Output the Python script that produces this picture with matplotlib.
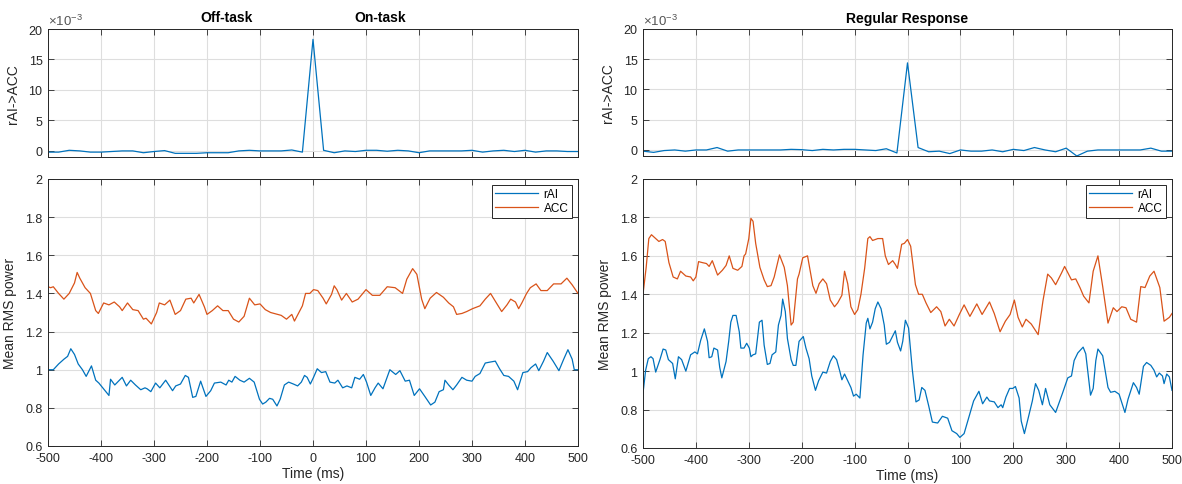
import numpy as np
import matplotlib
matplotlib.use("Agg")
from matplotlib import pyplot as plt

plt.rcParams['font.family'] = ['Liberation Sans', 'DejaVu Sans']
plt.rcParams['mathtext.default'] = 'regular'

BLUE = '#0072BD'
ORANGE = '#D95319'
AX_COL = '#262626'

# top panels: rAI->ACC, sampled every 20 ms (x 1e-3)
lag_t = np.arange(-500, 501, 20)
gc_off_on = [-0.2, -0.2, 0.1, 0.0, -0.2, -0.2, -0.1, 0.0, 0.0, -0.3,
             -0.1, 0.05, -0.4, -0.4, -0.4, -0.3, -0.3, -0.3, 0.0, 0.1,
             0.0, 0.0, 0.0, 0.15, -0.2, 18.3, 0.1, -0.3, 0.0, -0.1,
             0.1, 0.1, -0.05, 0.1, 0.0, -0.3, 0.0, 0.0, 0.0, 0.0,
             0.1, -0.2, 0.0, 0.1, -0.1, 0.1, -0.2, 0.0, 0.0, -0.1, -0.1]
gc_regular = [-0.2, -0.4, -0.1, 0.0, -0.2, 0.0, 0.0, 0.4, -0.2, 0.0,
              0.0, 0.0, 0.0, 0.0, 0.1, 0.05, -0.1, 0.1, 0.0, 0.1,
              0.1, 0.0, -0.1, 0.2, -0.5, 14.4, 0.4, -0.3, -0.2, -0.6,
              0.0, -0.2, -0.2, 0.0, -0.3, 0.1, -0.1, 0.4, 0.0, -0.3,
              0.3, -1.0, -0.2, 0.0, 0.0, 0.0, 0.0, 0.0, 0.3, -0.2, -0.2]

# bottom-left: Off-task / On-task
acc_l_t = [-500, -495, -490, -480, -470, -460, -450, -445, -440, -430, -420, -410, -405,
           -395, -385, -375, -365, -360, -350, -340, -330, -320, -315, -305, -295, -290,
           -280, -270, -260, -250, -240, -230, -225, -215, -205, -200, -190, -180, -170,
           -160, -150, -140, -130, -120, -110, -100, -90, -80, -60, -50, -40, -35, -20,
           -14, -6, 1, 9, 19, 25, 35, 40, 45, 54, 63, 74, 85, 100, 112, 126, 140, 155,
           169, 177, 188, 196, 205, 211, 221, 233, 246, 256, 265, 271, 281, 290, 301,
           315, 325, 335, 346, 356, 366, 373, 382, 388, 394, 403, 410, 421, 430, 442,
           454, 468, 479, 489, 500]
acc_l = [1.435, 1.43, 1.435, 1.40, 1.37, 1.40, 1.455, 1.51, 1.48, 1.43, 1.40, 1.31, 1.295,
         1.35, 1.34, 1.355, 1.33, 1.31, 1.35, 1.315, 1.31, 1.265, 1.27, 1.24, 1.30, 1.35,
         1.34, 1.365, 1.29, 1.31, 1.37, 1.375, 1.35, 1.395, 1.33, 1.29, 1.31, 1.335, 1.31,
         1.31, 1.265, 1.25, 1.28, 1.375, 1.34, 1.345, 1.315, 1.30, 1.285, 1.265, 1.29, 1.255,
         1.335, 1.40, 1.40, 1.42, 1.415, 1.375, 1.345, 1.395, 1.44, 1.42, 1.365, 1.40,
         1.355, 1.37, 1.42, 1.39, 1.39, 1.435, 1.43, 1.40, 1.475, 1.53, 1.50, 1.37, 1.32,
         1.375, 1.405, 1.38, 1.35, 1.33, 1.29, 1.295, 1.305, 1.32, 1.335, 1.37, 1.40,
         1.35, 1.305, 1.34, 1.37, 1.355, 1.32, 1.35, 1.40, 1.43, 1.45, 1.415, 1.415, 1.45,
         1.45, 1.48, 1.445, 1.40]

rai_l_t = [-500, -495, -490, -480, -470, -463, -457, -450, -443, -435, -428, -418, -410,
           -404, -385, -382, -374, -360, -352, -344, -335, -325, -317, -313, -306, -297,
           -289, -278, -265, -259, -250, -241, -235, -227, -221, -212, -202, -193, -186,
           -174, -164, -159, -153, -147, -138, -130, -120, -111, -101, -95, -89, -82, -76,
           -68, -62, -54, -46, -37, -29, -22, -16, -11, -5, 1, 8, 16, 24, 32, 41, 47, 56,
           64, 73, 79, 88, 95, 101, 109, 117, 123, 132, 145, 156, 164, 174, 182, 191, 201,
           211, 222, 230, 238, 246, 249, 256, 264, 271, 281, 290, 300, 306, 315, 325, 334,
           344, 352, 360, 369, 379, 386, 396, 405, 411, 420, 426, 435, 442, 453, 464, 473,
           481, 489, 493, 500]
rai_l = [1.0, 1.0, 1.0, 1.03, 1.055, 1.07, 1.11, 1.08, 1.03, 1.0, 0.965, 1.02, 0.945,
         0.93, 0.865, 0.95, 0.92, 0.96, 0.915, 0.945, 0.92, 0.895, 0.905, 0.90, 0.885, 0.93,
         0.905, 0.945, 0.89, 0.915, 0.925, 0.97, 0.96, 0.855, 0.86, 0.94, 0.86, 0.89, 0.93,
         0.935, 0.92, 0.945, 0.935, 0.965, 0.945, 0.935, 0.955, 0.935, 0.845, 0.82, 0.83,
         0.85, 0.845, 0.81, 0.845, 0.92, 0.935, 0.925, 0.915, 0.935, 0.97, 0.96, 0.925,
         0.96, 1.005, 0.985, 0.99, 0.935, 0.93, 0.945, 0.905, 0.915, 0.905, 0.96, 0.95,
         0.975, 0.935, 0.865, 0.905, 0.93, 0.90, 1.0, 0.975, 0.995, 0.94, 0.945, 0.865,
         0.90, 0.86, 0.815, 0.83, 0.885, 0.895, 0.945, 0.92, 0.895, 0.92, 0.96, 0.945,
         0.94, 0.965, 0.98, 1.035, 1.04, 1.045, 1.005, 0.97, 0.965, 0.94, 0.895, 0.985,
         0.99, 1.01, 1.03, 0.995, 1.045, 1.09, 1.045, 0.995, 1.055, 1.105, 1.055, 1.0, 1.0]

# bottom-right: Regular Response
acc_r_t = [-500, -494, -489, -484, -476, -470, -463, -458, -451, -443, -435, -429, -419,
           -410, -405, -400, -395, -388, -380, -375, -369, -359, -350, -343, -337, -330,
           -321, -313, -309, -306, -300, -296, -292, -287, -279, -271, -265, -258, -252,
           -242, -233, -227, -220, -216, -208, -205, -198, -189, -179, -173, -167, -160,
           -153, -146, -138, -132, -124, -119, -113, -107, -100, -94, -88, -81, -75, -71,
           -66, -56, -47, -42, -36, -28, -23, -19, -11, -6, 0, 6, 15, 21, 28, 35, 44, 55,
           63, 71, 79, 88, 98, 107, 118, 131, 141, 155, 164, 175, 185, 194, 202, 209, 217,
           224, 234, 247, 256, 265, 272, 280, 291, 297, 310, 318, 326, 333, 343, 351, 360,
           369, 379, 389, 396, 405, 413, 422, 433, 441, 449, 458, 466, 477, 485, 495, 500]
acc_r = [1.40, 1.54, 1.69, 1.71, 1.69, 1.675, 1.685, 1.675, 1.565, 1.49, 1.48, 1.52, 1.495,
         1.49, 1.47, 1.49, 1.57, 1.565, 1.56, 1.545, 1.575, 1.50, 1.525, 1.55, 1.60, 1.535,
         1.525, 1.545, 1.60, 1.61, 1.69, 1.795, 1.78, 1.665, 1.54, 1.475, 1.44, 1.445, 1.49,
         1.605, 1.54, 1.445, 1.24, 1.255, 1.48, 1.505, 1.59, 1.60, 1.445, 1.405, 1.455, 1.48,
         1.455, 1.37, 1.335, 1.355, 1.395, 1.52, 1.455, 1.335, 1.295, 1.32, 1.40, 1.535,
         1.69, 1.70, 1.68, 1.69, 1.69, 1.60, 1.555, 1.575, 1.555, 1.535, 1.66, 1.665, 1.685,
         1.65, 1.45, 1.40, 1.40, 1.355, 1.305, 1.335, 1.31, 1.235, 1.27, 1.235, 1.295, 1.345,
         1.285, 1.35, 1.295, 1.36, 1.30, 1.205, 1.26, 1.295, 1.37, 1.28, 1.23, 1.27, 1.245,
         1.19, 1.365, 1.505, 1.485, 1.45, 1.51, 1.545, 1.475, 1.48, 1.435, 1.39, 1.355, 1.52,
         1.60, 1.44, 1.25, 1.33, 1.31, 1.335, 1.33, 1.27, 1.255, 1.44, 1.435, 1.495, 1.52,
         1.435, 1.26, 1.28, 1.30]

rai_r_t = [-500, -495, -490, -485, -481, -476, -468, -462, -457, -452, -444, -439, -433,
           -427, -419, -410, -402, -397, -391, -384, -378, -375, -370, -366, -359, -355,
           -351, -343, -338, -334, -330, -324, -318, -315, -309, -304, -299, -296, -292,
           -287, -280, -275, -271, -265, -260, -256, -249, -244, -239, -236, -231, -227,
           -220, -216, -211, -205, -197, -192, -186, -181, -174, -168, -160, -153, -146,
           -140, -134, -128, -124, -119, -113, -107, -102, -97, -90, -84, -78, -75, -71,
           -66, -61, -56, -50, -44, -40, -34, -23, -19, -13, -9, -4, 2, 9, 16, 22, 27, 33,
           40, 47, 57, 66, 76, 84, 93, 99, 107, 116, 125, 135, 142, 150, 155, 164, 171, 177,
           180, 186, 193, 199, 204, 211, 215, 221, 228, 236, 242, 248, 255, 261, 269, 280,
           293, 303, 310, 315, 322, 332, 337, 346, 351, 356, 360, 369, 379, 384, 392, 400,
           411, 417, 427, 433, 438, 446, 452, 460, 466, 471, 476, 482, 485, 490, 495, 500]
rai_r = [0.885, 1.005, 1.065, 1.075, 1.065, 0.995, 1.06, 1.115, 1.11, 1.06, 1.04, 0.96,
         1.075, 1.06, 1.0, 1.085, 1.10, 1.09, 1.16, 1.22, 1.155, 1.07, 1.075, 1.12, 1.11,
         1.02, 0.965, 1.05, 1.155, 1.255, 1.29, 1.29, 1.205, 1.12, 1.12, 1.145, 1.12, 1.075,
         1.085, 1.09, 1.255, 1.265, 1.135, 1.035, 1.04, 1.085, 1.10, 1.24, 1.29, 1.375,
         1.31, 1.17, 1.06, 1.03, 1.03, 1.155, 1.18, 1.12, 1.065, 0.975, 0.90, 0.95, 0.995,
         0.99, 1.05, 1.08, 1.06, 1.0, 0.955, 0.985, 0.95, 0.915, 0.87, 0.88, 0.86, 1.085,
         1.25, 1.275, 1.22, 1.255, 1.325, 1.36, 1.325, 1.24, 1.14, 1.15, 1.21, 1.15, 1.105,
         1.155, 1.265, 1.225, 1.01, 0.84, 0.85, 0.915, 0.90, 0.82, 0.735, 0.73, 0.765,
         0.755, 0.69, 0.675, 0.655, 0.675, 0.76, 0.845, 0.895, 0.83, 0.865, 0.845, 0.84,
         0.81, 0.825, 0.81, 0.865, 0.91, 0.91, 0.92, 0.86, 0.74, 0.675, 0.755, 0.845, 0.935,
         0.90, 0.825, 0.91, 0.825, 0.785, 0.885, 0.965, 0.975, 1.055, 1.095, 1.125, 1.09,
         0.875, 0.91, 1.055, 1.115, 1.08, 0.915, 0.89, 0.895, 0.88, 0.785, 0.855, 0.94,
         0.915, 0.88, 1.025, 1.045, 1.03, 1.005, 0.97, 0.99, 0.975, 0.935, 0.985, 0.97, 0.90]

x_ticks = np.arange(-500, 501, 100)


def style_axes(ax):
    ax.set_xlim(-500, 500)
    ax.set_xticks(x_ticks)
    ax.grid(True, color='#dedede', lw=0.8)
    ax.set_axisbelow(True)
    ax.tick_params(direction='in', length=4, width=0.6, top=True, right=True,
                   colors=AX_COL, labelsize=9, pad=4)
    for s in ax.spines.values():
        s.set_color(AX_COL)
        s.set_linewidth(0.7)


def top_panel(ax, values):
    ax.plot(lag_t, values, color=BLUE, lw=0.9)
    style_axes(ax)
    ax.set_ylim(-1, 20)
    ax.set_yticks([0, 5, 10, 15, 20])
    ax.tick_params(labelbottom=False)
    ax.set_ylabel('rAI->ACC', fontsize=10, color=AX_COL, labelpad=6)
    ax.text(0.0, 1.01, r'$\times10^{-3}$', transform=ax.transAxes,
            fontsize=9.5, color='#555555', ha='left', va='bottom')


def bottom_panel(ax, t1, v1, t2, v2):
    ax.plot(t1, v1, color=BLUE, lw=0.9, label='rAI')
    ax.plot(t2, v2, color=ORANGE, lw=0.9, label='ACC')
    style_axes(ax)
    ax.set_ylim(0.6, 2)
    ax.set_yticks([0.6, 0.8, 1.0, 1.2, 1.4, 1.6, 1.8, 2.0])
    ax.set_yticklabels(['0.6', '0.8', '1', '1.2', '1.4', '1.6', '1.8', '2'])
    ax.set_xticklabels([str(v) for v in x_ticks])
    ax.set_ylabel('Mean RMS power', fontsize=10, color=AX_COL, labelpad=6)
    ax.set_xlabel('Time (ms)', fontsize=10, color=AX_COL, labelpad=2)
    leg = ax.legend(loc='upper right', fontsize=8.5, fancybox=False, framealpha=1,
                    edgecolor=AX_COL, handlelength=3.6, handletextpad=0.5,
                    borderpad=0.3, labelspacing=0.15, borderaxespad=0.5)
    leg.get_frame().set_linewidth(0.7)


fig = plt.figure(figsize=(11.82, 4.85), dpi=100)

ax_tl = fig.add_axes([48 / 1182, 1 - 158 / 485, 530 / 1182, 128 / 485])
ax_bl = fig.add_axes([48 / 1182, 1 - 447 / 485, 530 / 1182, 267 / 485])
ax_tr = fig.add_axes([643 / 1182, 1 - 157 / 485, 529 / 1182, 127 / 485])
ax_br = fig.add_axes([643 / 1182, 1 - 449 / 485, 529 / 1182, 269 / 485])

top_panel(ax_tl, gc_off_on)
top_panel(ax_tr, gc_regular)
bottom_panel(ax_bl, rai_l_t, rai_l, acc_l_t, acc_l)
bottom_panel(ax_br, rai_r_t, rai_r, acc_r_t, acc_r)

# titles
ax_tl.text(0.336, 1.094, 'Off-task', transform=ax_tl.transAxes, ha='center',
           va='center', fontsize=10, fontweight='bold', color='black')
ax_tl.text(0.626, 1.094, 'On-task', transform=ax_tl.transAxes, ha='center',
           va='center', fontsize=10, fontweight='bold', color='black')
ax_tr.set_title('Regular Response', fontsize=10, fontweight='bold', pad=5)

fig.savefig('out.png', dpi=100)
